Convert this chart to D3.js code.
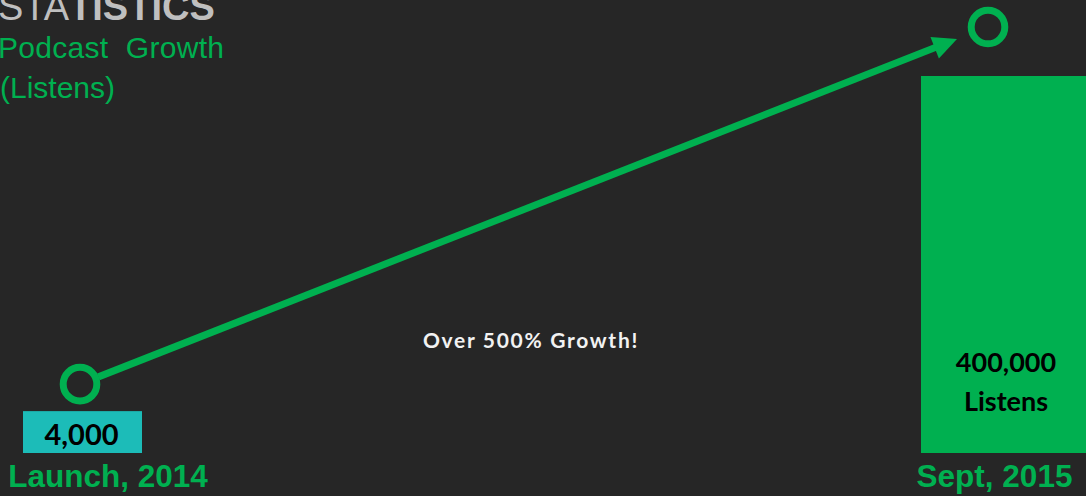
<!DOCTYPE html>
<html>
<head>
<meta charset="utf-8">
<script src="https://cdn.jsdelivr.net/npm/d3@7"></script>
<style>
  html, body { margin: 0; padding: 0; background: #262626; overflow: hidden; }
  svg { display: block; }
</style>
</head>
<body>
<svg id="chart" width="1086" height="496"></svg>
<script>
// data
var categories = ["Launch, 2014", "Sept, 2015"];
var listens = [4000, 400000];
var valueUnits = ["", "Listens"];
var titleParts = ["STA", "TISTICS"];
var subtitleLines = ["Podcast  Growth", "(Listens)"];
var growthNote = "Over 500% Growth!";

var W = 1086, H = 496;
var GREEN = "#00b050", CYAN = "#1cbcb8";

var svg = d3.select("#chart");

// bars are not drawn to a linear scale in the original, a log scale fits them
var y = d3.scaleLog().domain([2250, 400000]).range([453, 76]);
var x = d3.scalePoint().domain(categories).range([82.5, 1006]);

var barWidth = [119, 170],
    barFill = [CYAN, GREEN],
    markerDx = [-2.5, -18],
    markerDy = [27, 49],
    labelDx = [25.5, -11.5];

var rows = categories.map(function(c, i) {
    return { cat: c, value: listens[i], unit: valueUnits[i], i: i };
});

// bars
svg.append("g").selectAll("rect")
    .data(rows)
    .join("rect")
    .attr("x", function(d) { return x(d.cat) - barWidth[d.i] / 2; })
    .attr("y", function(d) { return y(d.value); })
    .attr("width", function(d) { return barWidth[d.i]; })
    .attr("height", function(d) { return y.range()[0] - y(d.value); })
    .attr("fill", function(d) { return barFill[d.i]; });

// value labels inside bars
var fmt = d3.format(",");
var vl = svg.append("g").selectAll("text")
    .data(rows)
    .join("text")
    .attr("text-anchor", "middle")
    .attr("font-family", "Lato, 'Open Sans', sans-serif")
    .attr("font-weight", 700)
    .attr("fill", "#000");

vl.filter(function(d) { return !d.unit; })
    .attr("x", function(d) { return x(d.cat) - 1; })
    .attr("y", function(d) { return y(d.value) + 33.5; })
    .attr("font-size", 29)
    .text(function(d) { return fmt(d.value); });

vl.filter(function(d) { return d.unit; })
    .attr("font-size", 27)
    .each(function(d) {
        var t = d3.select(this);
        var cx = x(d.cat), base = 372;
        t.append("tspan").attr("x", cx).attr("y", base).text(fmt(d.value));
        t.append("tspan").attr("x", cx).attr("y", base + 38.5).text(d.unit);
    });

// category labels
svg.append("g").selectAll("text")
    .data(rows)
    .join("text")
    .attr("x", function(d) { return x(d.cat) + labelDx[d.i]; })
    .attr("y", 487)
    .attr("text-anchor", "middle")
    .attr("font-family", "'Liberation Sans', Arial, sans-serif")
    .attr("font-weight", 700)
    .attr("font-size", 31.5)
    .attr("fill", GREEN)
    .text(function(d) { return d.cat; });

// ring markers above each bar
var pts = rows.map(function(d) {
    return [x(d.cat) + markerDx[d.i], y(d.value) - markerDy[d.i]];
});
var ringR = 16.8;

svg.append("g").selectAll("circle")
    .data(pts)
    .join("circle")
    .attr("cx", function(p) { return p[0]; })
    .attr("cy", function(p) { return p[1]; })
    .attr("r", ringR)
    .attr("fill", "none")
    .attr("stroke", GREEN)
    .attr("stroke-width", 7);

// growth arrow: from first ring towards the second one
var a = pts[0], b = pts[1];
var tip = [b[0] - 31, b[1] + 12];
var dx = tip[0] - a[0], dy = tip[1] - a[1];
var len = Math.sqrt(dx * dx + dy * dy);
var ux = dx / len, uy = dy / len;
var headLen = 24, headHalf = 11.5;
var start = [a[0] + ux * (ringR + 3), a[1] + uy * (ringR + 3)];
var neck = [tip[0] - ux * headLen, tip[1] - uy * headLen];

svg.append("line")
    .attr("x1", start[0]).attr("y1", start[1])
    .attr("x2", neck[0] + ux * 2).attr("y2", neck[1] + uy * 2)
    .attr("stroke", GREEN)
    .attr("stroke-width", 7);

svg.append("path")
    .attr("d", d3.line()([
        tip,
        [neck[0] - uy * headHalf, neck[1] + ux * headHalf],
        [neck[0] + uy * headHalf, neck[1] - ux * headHalf]
    ]) + "Z")
    .attr("fill", GREEN);

// note in the middle
svg.append("text")
    .attr("x", 531)
    .attr("y", 348)
    .attr("text-anchor", "middle")
    .attr("font-family", "Lato, 'Open Sans', sans-serif")
    .attr("font-weight", 700)
    .attr("font-size", 21)
    .attr("letter-spacing", 1.7)
    .attr("fill", "#f2f2f2")
    .text(growthNote);

// title block, cut by the top-left edge
var title = svg.append("text")
    .attr("x", -2)
    .attr("y", 20)
    .attr("font-family", "'Liberation Sans', Arial, sans-serif")
    .attr("font-size", 38)
    .attr("fill", "#bfbfbf");
title.append("tspan").attr("font-weight", 400).text(titleParts[0]);
title.append("tspan").attr("font-weight", 700).text(titleParts[1]);

svg.append("g").selectAll("text")
    .data(subtitleLines)
    .join("text")
    .attr("x", function(d, i) { return i ? 0 : -2; })
    .attr("y", function(d, i) { return 58 + i * 40; })
    .attr("font-family", "'Liberation Sans', Arial, sans-serif")
    .attr("font-size", 30)
    .attr("letter-spacing", function(d, i) { return i ? 0 : 0.3; })
    .attr("fill", GREEN)
    .attr("xml:space", "preserve")
    .style("white-space", "pre")
    .text(function(d) { return d; });
</script>
</body>
</html>
